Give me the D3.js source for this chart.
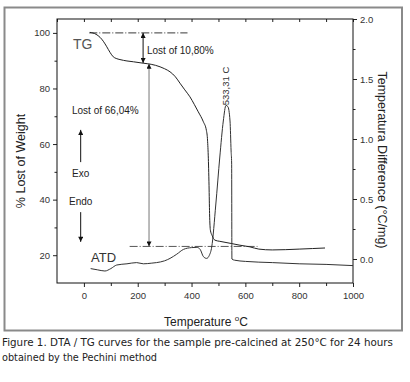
<!DOCTYPE html>
<html>
<head>
<meta charset="utf-8">
<script src="https://cdn.jsdelivr.net/npm/d3@7"></script>
<style>
  body { margin: 0; background: #fff; }
  svg { display: block; font-family: "Liberation Sans", Arial, sans-serif; }
</style>
</head>
<body>
<div id="chart"></div>
<script>
// TG curve (temperature in °C, % weight)
const tgTemp = [22, 45, 60, 72, 85, 97, 109, 120, 134, 160, 184, 220, 250, 283, 300, 320, 340, 357, 375, 394, 410, 425, 444, 455, 459, 462, 465, 467, 470, 476, 487, 505, 543, 580, 617, 650, 700, 750, 800, 850, 896];
const tgWeight = [100.2, 99.5, 98.4, 97, 95, 93, 91.4, 90.8, 90.4, 89.9, 89.6, 89.1, 88.7, 87.8, 87.1, 86.0, 84.2, 81.9, 79.5, 77.0, 74.3, 71.6, 68.0, 65, 62, 56, 45, 35, 29, 27.2, 25.4, 25.0, 24.3, 23.6, 23.0, 22.2, 21.9, 22.0, 22.2, 22.4, 22.6];

// DTA curve (temperature in °C, °C/mg)
const dtaTemp = [25, 50, 78, 100, 122, 160, 196, 221, 250, 270, 300, 320, 345, 370, 400, 420, 432, 444, 456, 466, 475, 490, 505, 518, 528, 535, 543, 547, 549, 550, 560, 600, 700, 800, 900, 1000];
const dtaDiff = [-0.08, -0.09, -0.1, -0.08, -0.05, -0.04, -0.03, -0.04, -0.035, -0.03, -0.015, 0.005, 0.04, 0.08, 0.095, 0.097, 0.08, 0.02, 0.005, 0.03, 0.1, 0.45, 0.85, 1.15, 1.28, 1.27, 1.15, 0.9, 0.8, 0.0, -0.01, -0.02, -0.03, -0.04, -0.045, -0.055];

// axes
const xTicks = [0, 200, 400, 600, 800, 1000];
const xMinor = [100, 300, 500, 700, 900];
const xTop = [-100, 0, 100, 200, 300, 400, 500, 600, 700, 800, 900, 1000];
const weightTicks = [20, 40, 60, 80, 100];
const weightMinor = [30, 50, 70, 90];
const diffTicks = [0.0, 0.5, 1.0, 1.5, 2.0];
const diffMinor = [0.25, 0.75, 1.25, 1.75];

// annotations
const startWeight = 100;
const plateauWeight = 89.2;
const finalWeight = 23.16;
const peakTemp = 533.31;

function createChart() {
  const W = 410, H = 382;
  const box = { left: 57, right: 353, top: 19, bottom: 283 };

  const svg = d3.select("#chart")
    .append("svg")
    .attr("width", W)
    .attr("height", H);

  // outer frame
  svg.append("rect")
    .attr("x", 4.5).attr("y", 7.5)
    .attr("width", 397.5).attr("height", 323)
    .attr("fill", "none")
    .attr("stroke", "#8a8a8a")
    .attr("stroke-width", 2);

  const x = d3.scaleLinear().domain([-100, 1000]).range([box.left, box.right]);
  const yL = d3.scaleLinear().domain([10, 105]).range([box.bottom, box.top]);
  const yR = d3.scaleLinear().domain([-0.2, 2.0]).range([box.bottom, box.top]);

  svg.append("defs").append("marker")
    .attr("id", "arr")
    .attr("viewBox", "0 0 10 10")
    .attr("refX", 10).attr("refY", 5)
    .attr("markerWidth", 6).attr("markerHeight", 5)
    .attr("markerUnits", "userSpaceOnUse")
    .attr("orient", "auto-start-reverse")
    .append("path")
    .attr("d", "M0,0L10,5L0,10z")
    .attr("fill", "#111");

  // axes
  const styleAxis = g => {
    g.select(".domain").remove();
    g.selectAll("line").attr("stroke", "#222");
    g.selectAll("text").attr("fill", "#333").style("font-size", "9.5px");
  };

  svg.append("g")
    .attr("transform", `translate(${box.left},0)`)
    .call(d3.axisLeft(yL).tickValues(weightTicks).tickSize(4).tickPadding(3))
    .call(styleAxis);
  svg.append("g")
    .attr("transform", `translate(${box.left},0)`)
    .call(d3.axisLeft(yL).tickValues(weightMinor).tickSize(2.5).tickFormat(""))
    .call(styleAxis);

  svg.append("g")
    .attr("transform", `translate(${box.right},0)`)
    .call(d3.axisRight(yR).tickValues(diffTicks).tickSize(4).tickPadding(3).tickFormat(d3.format(".1f")))
    .call(styleAxis);
  svg.append("g")
    .attr("transform", `translate(${box.right},0)`)
    .call(d3.axisRight(yR).tickValues(diffMinor).tickSize(2.5).tickFormat(""))
    .call(styleAxis);

  svg.append("g")
    .attr("transform", `translate(0,${box.bottom})`)
    .call(d3.axisBottom(x).tickValues(xTicks).tickSize(4).tickPadding(5).tickFormat(d3.format("d")))
    .call(styleAxis);
  svg.append("g")
    .attr("transform", `translate(0,${box.bottom})`)
    .call(d3.axisBottom(x).tickValues(xMinor).tickSize(3).tickFormat(""))
    .call(styleAxis);
  svg.append("g")
    .attr("transform", `translate(0,${box.top})`)
    .call(d3.axisBottom(x).tickValues(xTop).tickSize(3).tickFormat(""))
    .call(styleAxis);

  svg.append("rect")
    .attr("x", box.left).attr("y", box.top)
    .attr("width", box.right - box.left)
    .attr("height", box.bottom - box.top)
    .attr("fill", "none")
    .attr("stroke", "#111");

  // reference lines (dash-dot)
  svg.append("line")
    .attr("x1", x(20)).attr("x2", x(385))
    .attr("y1", yL(startWeight)).attr("y2", yL(startWeight))
    .attr("stroke", "#222").attr("stroke-width", 0.9)
    .attr("stroke-dasharray", "8,2,1,2");
  svg.append("line")
    .attr("x1", x(170)).attr("x2", x(645))
    .attr("y1", yL(finalWeight)).attr("y2", yL(finalWeight))
    .attr("stroke", "#444").attr("stroke-width", 0.9)
    .attr("stroke-dasharray", "8,2,1,2");

  // curves
  const tg = tgTemp.map((t, i) => [t, tgWeight[i]]);
  const dta = dtaTemp.map((t, i) => [t, dtaDiff[i]]);

  svg.append("path")
    .datum(tg)
    .attr("fill", "none")
    .attr("stroke", "#222")
    .attr("stroke-width", 1)
    .attr("d", d3.line().x(d => x(d[0])).y(d => yL(d[1])).curve(d3.curveMonotoneX));

  svg.append("path")
    .datum(dta)
    .attr("fill", "none")
    .attr("stroke", "#333")
    .attr("stroke-width", 1)
    .attr("d", d3.line().x(d => x(d[0])).y(d => yR(d[1])).curve(d3.curveMonotoneX));

  // arrows
  const arrow = (t, a, b, color, both) => svg.append("line")
    .attr("x1", x(t)).attr("x2", x(t))
    .attr("y1", yL(a)).attr("y2", yL(b))
    .attr("stroke", color).attr("stroke-width", 1)
    .attr("marker-start", both ? "url(#arr)" : null)
    .attr("marker-end", "url(#arr)");

  arrow(220, startWeight, plateauWeight, "#111", true);
  arrow(242, finalWeight, plateauWeight - 0.3, "#777", true);
  arrow(-12, 53.5, 65.1, "#111", false);
  arrow(-12, 35.5, 24.8, "#111", false);

  // labels
  const label = (px, py, txt, size, color) => svg.append("text")
    .attr("x", px).attr("y", py)
    .attr("fill", color || "#222")
    .style("font-size", size + "px")
    .text(txt);

  label(73, 49, "TG", 14, "#555");
  label(91, 262, "ATD", 13, "#333");
  label(147, 54, "Lost of 10,80%", 10);
  label(72, 114, "Lost of 66,04%", 10);
  label(x(-12), 177, "Exo", 10).attr("text-anchor", "middle");
  label(x(-12), 205, "Endo", 10).attr("text-anchor", "middle");

  svg.append("text")
    .attr("transform", `translate(${x(peakTemp) - 2},86) rotate(-90)`)
    .attr("text-anchor", "middle")
    .attr("dy", "0.35em")
    .attr("fill", "#333")
    .style("font-size", "9.5px")
    .text("533,31 C");

  // axis titles
  svg.append("text")
    .attr("transform", `translate(25,161) rotate(-90)`)
    .attr("text-anchor", "middle")
    .attr("fill", "#222")
    .style("font-size", "12.5px")
    .text("% Lost of Weight");

  svg.append("text")
    .attr("transform", `translate(378,160) rotate(90)`)
    .attr("text-anchor", "middle")
    .attr("fill", "#222")
    .style("font-size", "12.5px")
    .text("Temperatura Difference (°C/mg)");

  const xt = svg.append("text")
    .attr("x", 206).attr("y", 326)
    .attr("text-anchor", "middle")
    .attr("fill", "#222")
    .style("font-size", "12px");
  xt.append("tspan").text("Temperature ");
  xt.append("tspan").attr("dy", -5).style("font-size", "8px").text("o");
  xt.append("tspan").attr("dy", 5).text("C");

  // caption
  const cap = svg.append("g")
    .style("font-family", "'DejaVu Sans', sans-serif")
    .style("font-size", "10.5px")
    .attr("fill", "#222");
  cap.append("text").attr("x", 2).attr("y", 346)
    .attr("textLength", 391).attr("lengthAdjust", "spacingAndGlyphs")
    .text("Figure 1. DTA / TG curves for the sample pre-calcined at 250°C for 24 hours");
  cap.append("text").attr("x", 2).attr("y", 361)
    .attr("textLength", 155).attr("lengthAdjust", "spacingAndGlyphs")
    .text("obtained by the Pechini method");
}

createChart();
</script>
</body>
</html>
